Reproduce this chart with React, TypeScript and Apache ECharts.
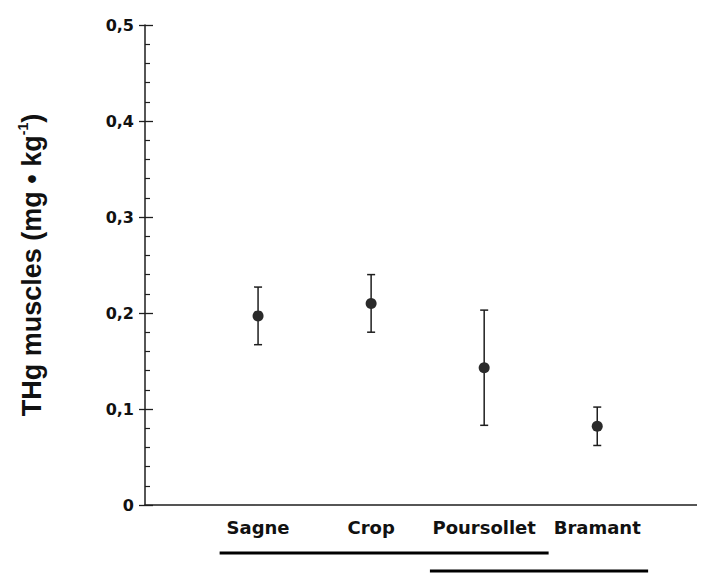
import React, { useEffect, useRef } from "react";
import * as echarts from "echarts";

const categories = ["Sagne", "Crop", "Poursollet", "Bramant"];
const means = [0.197, 0.21, 0.143, 0.082];
const errors = [0.03, 0.03, 0.06, 0.02];
const yTicks = [0, 0.1, 0.2, 0.3, 0.4, 0.5];
// homogeneous groups drawn under the axis (extent in x-axis units, row index)
const groupStart = [0.66, 2.52];
const groupEnd = [3.57, 4.45];

const INK = "#1e1e1e";
const FONT = "DejaVu Sans";
const TITLE_FONT = "Liberation Sans";

export default function App() {
  const ref = useRef<HTMLDivElement>(null);
  useEffect(() => {
    const chart = echarts.init(ref.current!, null, { renderer: "svg" });
    const pointData = means.map((m, i) => [i + 1, m]);
    const errData = means.map((m, i) => [i + 1, m - errors[i], m + errors[i]]);
    const groupData = groupStart.map((s, i) => [s, groupEnd[i], i]);
    chart.setOption({
      animation: false,
      backgroundColor: "#ffffff",
      grid: { left: 137, right: 14, top: 17, bottom: 79, containLabel: false },
      xAxis: {
        type: "value",
        min: 0,
        max: 4.9,
        interval: 1,
        splitLine: { show: false },
        axisTick: { show: false },
        axisLine: { show: true, lineStyle: { color: INK, width: 1.5 } },
        axisLabel: {
          margin: 13,
          fontFamily: FONT,
          fontWeight: "bold",
          fontSize: 18,
          color: "#111",
          formatter: (v: number) =>
            Number.isInteger(v) && v >= 1 && v <= categories.length ? categories[v - 1] : "",
        },
      },
      yAxis: [
        {
          type: "value",
          min: yTicks[0],
          max: yTicks[yTicks.length - 1],
          interval: 0.1,
          splitLine: { show: false },
          axisLine: { show: true, onZero: false, lineStyle: { color: INK, width: 1.5 } },
          axisTick: { show: true, inside: true, length: 8, lineStyle: { color: INK, width: 1.3 } },
          minorTick: { show: true, splitNumber: 5, length: 5, lineStyle: { color: INK, width: 1.2 } },
          axisLabel: {
            margin: 11,
            fontFamily: FONT,
            fontWeight: "bold",
            fontSize: 16,
            color: "#111",
            formatter: (v: number) => (v === 0 ? "0" : v.toFixed(1).replace(".", ",")),
          },
          name: "{a|THg muscles (mg • kg}{s|-1}{a|)}",
          nameLocation: "middle",
          nameRotate: 90,
          nameGap: 97,
          nameTextStyle: {
            rich: {
              a: { fontFamily: TITLE_FONT, fontWeight: "bold", fontSize: 27, color: "#111", lineHeight: 32 },
              s: { fontFamily: TITLE_FONT, fontWeight: "bold", fontSize: 14, color: "#111", verticalAlign: "top", lineHeight: 32 },
            },
          },
        },
        {
          type: "value",
          min: yTicks[0],
          max: yTicks[yTicks.length - 1],
          interval: 0.1,
          position: "left",
          splitLine: { show: false },
          axisLine: { show: false },
          axisTick: { show: true, inside: false, length: 6, lineStyle: { color: INK, width: 1.3 } },
          axisLabel: { show: false },
        },
      ],
      series: [
        {
          type: "custom",
          name: "err",
          data: errData,
          renderItem: (params: any, api: any) => {
            const x = api.value(0);
            const lo = api.coord([x, api.value(1)]);
            const hi = api.coord([x, api.value(2)]);
            const cap = 4;
            const style = { stroke: INK, lineWidth: 1.5 };
            return {
              type: "group",
              children: [
                { type: "line", shape: { x1: lo[0], y1: lo[1], x2: hi[0], y2: hi[1] }, style },
                { type: "line", shape: { x1: hi[0] - cap, y1: hi[1], x2: hi[0] + cap, y2: hi[1] }, style },
                { type: "line", shape: { x1: lo[0] - cap, y1: lo[1], x2: lo[0] + cap, y2: lo[1] }, style },
              ],
            };
          },
          z: 2,
        },
        {
          type: "scatter",
          data: pointData,
          symbol: "circle",
          symbolSize: 11,
          itemStyle: { color: "#2a2a2a", opacity: 1 },
          z: 3,
        },
        {
          type: "custom",
          name: "groups",
          data: groupData,
          clip: false,
          renderItem: (params: any, api: any) => {
            const a = api.coord([api.value(0), 0]);
            const b = api.coord([api.value(1), 0]);
            const y = a[1] + 48 + api.value(2) * 18;
            return {
              type: "line",
              shape: { x1: a[0], y1: y, x2: b[0], y2: y },
              style: { stroke: "#000", lineWidth: 3 },
            };
          },
        },
      ],
    });
    return () => chart.dispose();
  }, []);
  return <div ref={ref} style={{ width: 705, height: 576 }} />;
}
